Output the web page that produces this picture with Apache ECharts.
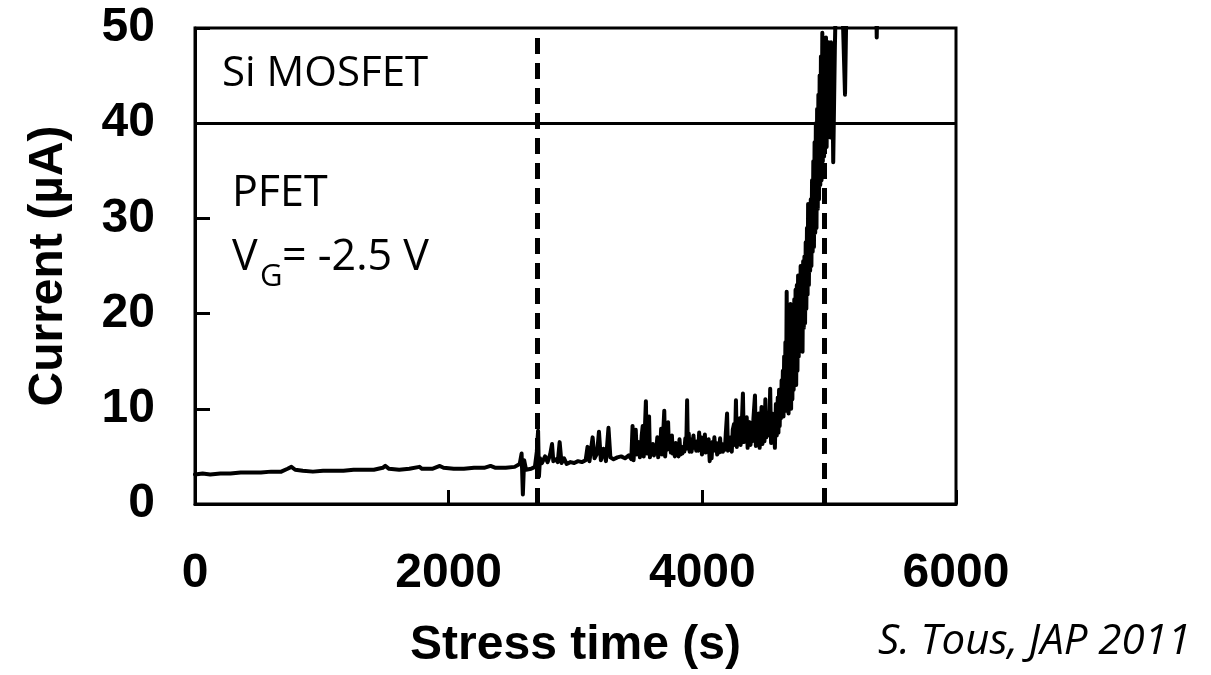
<!DOCTYPE html>
<html>
<head>
<meta charset="utf-8">
<script src="https://cdn.jsdelivr.net/npm/echarts@6/dist/echarts.min.js"></script>
<style>
html,body{margin:0;padding:0;background:#fff;}
#chart{width:1211px;height:675px;}
</style>
</head>
<body>
<div id="chart"></div>
<script>
// Stress time (s)
const stressTime = [
0,60,120,200,280,360,440,520,600,680,730,760,790,850,930,1010,1090,1170,1250,1330,1410,1480,1500,1530,1610,1690,1770,1790,1870,1930,1960,2040,2120,2200,2280,2330,2370,2450,2520,2560,
2575,2585,2595,2610,2650,2680,2695,2705,2712,2720,2735,2760,2780,2800,2815,2825,2845,2860,2875,2890,2910,2930,2960,2990,3020,3050,3080,3095,3110,3135,3150,3170,3185,3200,3220,3240,3260,3275,3300,3330,3360,3390,3420,
3440,3450,3458,3466,3475,3483,3490,3500,3508,3515,3522,3530,3538,3546,3555,3562,3570,3580,3587,3595,3603,3610,3618,3626,3634,3645,3652,3660,3668,3675,3682,3690,3700,3707,3715,3723,3730,3737,3745,3752,3760,3767,3775,3783,3790,3798,3805,3812,3820,3828,3835,3843,3850,3858,3866,3873,3880,3886,3893,3900,3908,3915,3922,3930,3937,3945,3952,3960,3968,3975,3982,3990,3997,4005,4012,4020,4027,4035,4042,4050,4058,4065,4073,4080,4088,4095,4102,4110,4117,4125,4132,4140,4147,4155,4162,4170,4178,4185,
4195,4202,4210,4217,4225,4232,4240,4250,4257,4265,4272,4280,4287,4295,4302,4310,4320,4327,4335,4342,4350,4357,4365,4372,4380,4388,4395,4403,4415,4422,4430,4437,4445,4452,4460,4467,4474,4482,4490,4497,4504,4512,4520,4527,4535,4542,4550,4557,4565,4572,4580,4587,4595,
4600,4605,4610,4615,4620,4625,4630,4635,4640,4645,4650,4655,4660,4665,4670,4675,4680,4685,4690,4695,4700,4705,4710,4715,4720,4725,4730,4735,4740,4745,4750,4755,4760,4765,4770,4775,4780,4785,4790,4795,4800,4805,4810,4815,4820,4825,4830,4834,
4840,4845,4850,4855,4860,4865,4870,4875,4880,4885,4890,4895,4900,4905,4910,4915,4920,4925,4930,4935,4940,4946,4950,4955,4960,4965,4970,4975,4980,4985,4990,4995,5000,5005,5010,5015,5020,5026,5032,5045,5060,5080,5095,5110,5125,5140,5170,5250,5360,5375,5390,5600
];
// Current (µA)
const current = [
3.1,3.2,3.1,3.2,3.2,3.3,3.3,3.3,3.4,3.4,3.7,3.9,3.6,3.5,3.4,3.5,3.5,3.5,3.6,3.6,3.6,3.8,4.0,3.7,3.6,3.7,3.9,3.7,3.7,4.0,3.8,3.7,3.7,3.8,3.8,4.0,3.8,3.8,3.9,4.2,
5.3,1.0,4.6,3.6,3.7,3.9,5.5,7.7,2.9,4.8,4.3,5.0,4.4,5.2,6.3,4.5,4.7,4.4,6.5,4.3,4.8,4.2,4.4,4.3,4.5,4.4,4.6,6.0,4.5,7.0,4.8,5.3,7.6,4.6,5.8,4.5,8.0,4.9,4.7,4.9,5.0,4.8,5.1,
4.7,8.2,4.6,6.5,7.8,5.2,6.0,6.5,4.9,5.6,7.2,8.2,5.0,7.5,10.8,5.3,7.4,9.2,4.9,6.1,5.4,6.3,5.1,6.0,5.3,7.0,4.9,6.2,5.5,7.9,5.2,7.0,9.8,5.0,6.8,5.7,8.6,5.8,6.5,5.4,7.2,5.3,6.2,5.0,6.4,5.2,6.0,5.0,6.8,5.2,5.8,5.3,6.0,5.5,6.9,5.8,10.9,5.8,7.4,5.5,6.8,5.5,6.2,7.2,5.9,6.5,5.6,6.6,5.6,7.5,5.8,7.0,5.2,6.4,5.6,7.3,5.4,6.3,5.6,6.8,4.5,5.6,4.8,6.5,5.8,7.0,5.6,6.4,5.2,6.1,5.4,6.9,5.5,6.3,5.5,6.2,5.7,7.4,
9.5,5.6,6.8,5.7,7.0,5.5,7.8,8.4,6.2,10.9,6.0,8.2,6.4,9.0,6.2,8.0,11.6,6.5,8.4,6.8,9.1,5.9,7.8,8.6,6.2,8.0,6.6,9.0,11.4,6.1,8.2,6.8,9.5,5.9,8.0,10.2,6.3,9.0,6.6,11.0,7.0,8.8,9.6,7.2,12.1,6.4,9.5,7.4,9.0,5.9,10.5,7.2,11.2,
7.5,12.0,8.2,11.5,9.0,13.0,9.5,14.0,9.2,15.5,10.0,17.0,9.8,22.3,10.5,19.0,9.5,18.5,11.5,21.0,10.0,20.5,11.0,19.5,12.0,21.5,13.0,22.5,12.5,23.0,14.0,24.0,15.5,23.5,16.5,25.0,17.5,24.0,16.0,25.5,18.5,26.0,19.0,27.5,20.5,29.0,22.0,31.5,
23.0,30.0,24.5,32.0,25.0,34.0,26.5,36.0,27.0,38.0,28.5,40.0,29.0,41.5,31.0,43.0,32.0,45.0,33.5,47.0,34.0,49.5,36.0,48.0,36.5,47.5,38.0,49.0,37.5,47.0,39.0,48.5,40.0,47.5,38.5,48.5,40.0,44.0,35.9,48.0,58.0,62.0,55.0,50.0,43.0,56.0,62.0,64.0,63.0,49.0,62.0,65.0
];
// Tick labels / axis ranges
const xTicks = [0, 2000, 4000, 6000];
const yTicks = [0, 10, 20, 30, 40, 50];
// Reference lines
const thresholdCurrent = 40;
const markerTimes = [2700, 4960];

const seriesData = stressTime.map((t, i) => [t, current[i]]);
const boldFont = '"Liberation Sans", Arial, sans-serif';
const textFont = '"Open Sans", "Noto Sans", sans-serif';

const chart = echarts.init(document.getElementById('chart'), null, {renderer: 'canvas'});
chart.setOption({
  animation: false,
  backgroundColor: '#fff',
  grid: {left: 195, top: 28, right: 255, bottom: 169, show: true, borderColor: '#000', borderWidth: 3, backgroundColor: 'transparent'},
  xAxis: {
    type: 'value', min: xTicks[0], max: xTicks[xTicks.length - 1], interval: xTicks[1] - xTicks[0],
    name: 'Stress time (s)', nameLocation: 'middle', nameGap: 118,
    nameTextStyle: {fontFamily: boldFont, fontWeight: 'bold', fontSize: 48, color: '#000'},
    axisLine: {lineStyle: {color: '#000', width: 3}},
    axisTick: {inside: true, length: 14, lineStyle: {color: '#000', width: 3}},
    axisLabel: {fontFamily: boldFont, fontWeight: 'bold', fontSize: 48, color: '#000', margin: 46, formatter: v => String(v)},
    splitLine: {show: false}
  },
  yAxis: {
    type: 'value', min: yTicks[0], max: yTicks[yTicks.length - 1], interval: yTicks[1] - yTicks[0],
    name: 'Current (\u00b5A)', nameLocation: 'middle', nameGap: 122,
    nameTextStyle: {fontFamily: boldFont, fontWeight: 'bold', fontSize: 48, color: '#000'},
    axisLine: {lineStyle: {color: '#000', width: 3}},
    axisTick: {inside: true, length: 15, lineStyle: {color: '#000', width: 3}},
    axisLabel: {fontFamily: boldFont, fontWeight: 'bold', fontSize: 48, color: '#000', margin: 40, formatter: v => String(v)},
    splitLine: {show: false}
  },
  series: [{
    type: 'line',
    data: seriesData,
    showSymbol: false,
    clip: true,
    lineStyle: {color: '#000', width: 4, join: 'round', cap: 'round'},
    markLine: {
      silent: true,
      symbol: 'none',
      label: {show: false},
      data: [
        {yAxis: thresholdCurrent, lineStyle: {type: 'solid', width: 3, color: '#000'}},
        ...markerTimes.map(t => ({xAxis: t, lineStyle: {type: [16, 9], width: 5, color: '#000'}}))
      ]
    }
  }],
  graphic: [
    {type: 'text', x: 222, y: 74, style: {text: 'Si MOSFET', font: '42px ' + textFont, fill: '#000', verticalAlign: 'middle'}},
    {type: 'text', x: 232, y: 194, style: {text: 'PFET', font: '43px ' + textFont, fill: '#000', verticalAlign: 'middle'}},
    {type: 'text', x: 232, y: 258, style: {text: 'V', font: '43px ' + textFont, fill: '#000', verticalAlign: 'middle'}},
    {type: 'text', x: 260, y: 277, style: {text: 'G', font: '31px ' + textFont, fill: '#000', verticalAlign: 'middle'}},
    {type: 'text', x: 282, y: 258, style: {text: '= -2.5 V', font: '43px ' + textFont, fill: '#000', verticalAlign: 'middle'}},
    {type: 'text', x: 878, y: 642, style: {text: 'S. Tous, JAP 2011', font: 'italic 42px ' + textFont, fill: '#000', verticalAlign: 'middle'}}
  ]
});
</script>
</body>
</html>
